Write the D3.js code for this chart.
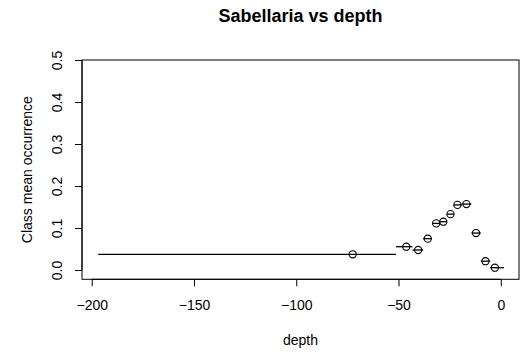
<!DOCTYPE html>
<html><head><meta charset="utf-8">
<script src="https://cdn.jsdelivr.net/npm/d3@7"></script>
<style>body{margin:0;background:#fff}svg{display:block}text{font-family:"Liberation Sans",Arial,sans-serif}</style>
</head><body><svg id="c" width="523" height="355"></svg>
<script>
const depthMid = [-72.4, -46.2, -40.4, -35.7, -31.6, -28.1, -24.6, -21.2, -16.8, -12.1, -7.5, -2.9];
const classLow = [-196.8, -51.3, -43.2, -38.0, -33.6, -29.8, -26.3, -22.9, -19.0, -14.4, -9.8, -5.2];
const classHigh = [-51.3, -43.2, -38.0, -33.6, -29.8, -26.3, -22.9, -19.0, -14.4, -9.8, -5.2, 1.6];
const meanOcc = [0.0374, 0.0555, 0.0476, 0.0746, 0.111, 0.115, 0.133, 0.155, 0.157, 0.088, 0.021, 0.0055];
const xTicks = [-200, -150, -100, -50, 0];
const yTicks = [0, 0.1, 0.2, 0.3, 0.4, 0.5];

const svg = d3.select("#c");
const L = 82, R = 519, T = 60, B = 279.3;
const x = d3.scaleLinear().domain([-204.75, 8.9]).range([L, R]);
const y = d3.scaleLinear().domain([-0.0221, 0.5]).range([B, T]);

svg.append("rect").attr("x", L).attr("y", T).attr("width", R - L).attr("height", B - T)
  .attr("fill", "none").attr("stroke", "#000").attr("stroke-width", 1);

const xa = svg.append("g").attr("transform", `translate(0,${B})`)
  .call(d3.axisBottom(x).tickValues(xTicks).tickSize(7).tickFormat(d => d === 0 ? "0" : "\u2212" + Math.abs(d)));
const ya = svg.append("g").attr("transform", `translate(${L},0)`)
  .call(d3.axisLeft(y).tickValues(yTicks).tickSize(7).tickFormat(d3.format(".1f")));
[xa, ya].forEach(g => {
  g.select(".domain").remove();
  g.selectAll("line").attr("stroke", "#000");
  g.selectAll("text").attr("font-size", 14).attr("fill", "#000");
});
svg.append("line").attr("x1", x(-200)).attr("x2", x(0)).attr("y1", B).attr("y2", B).attr("stroke", "#000");
svg.append("line").attr("x1", L).attr("x2", L).attr("y1", y(0)).attr("y2", y(0.5)).attr("stroke", "#000");
xa.selectAll(".tick text").attr("dy", null).attr("y", 30.7);
ya.selectAll(".tick text").attr("text-anchor", "middle").attr("dy", null)
  .attr("transform", "translate(-20,0) rotate(-90)").attr("x", 0).attr("y", 0);

svg.selectAll(".seg").data(meanOcc).enter().append("line")
  .attr("x1", (d, i) => x(classLow[i])).attr("x2", (d, i) => x(classHigh[i]))
  .attr("y1", d => y(d)).attr("y2", d => y(d)).attr("stroke", "#000").attr("stroke-width", 1.3);
svg.selectAll(".pt").data(meanOcc).enter().append("circle")
  .attr("cx", (d, i) => x(depthMid[i])).attr("cy", d => y(d)).attr("r", 3.6)
  .attr("fill", "none").attr("stroke", "#000").attr("stroke-width", 1.1);

svg.append("text").attr("x", (L + R) / 2).attr("y", 22).attr("text-anchor", "middle")
  .attr("font-size", 18).attr("font-weight", "bold").text("Sabellaria vs depth");
svg.append("text").attr("x", (L + R) / 2).attr("y", 345).attr("text-anchor", "middle")
  .attr("font-size", 14).text("depth");
svg.append("text").attr("transform", `translate(32,${(T + B) / 2}) rotate(-90)`).attr("text-anchor", "middle")
  .attr("font-size", 14).text("Class mean occurrence");
</script></body></html>
